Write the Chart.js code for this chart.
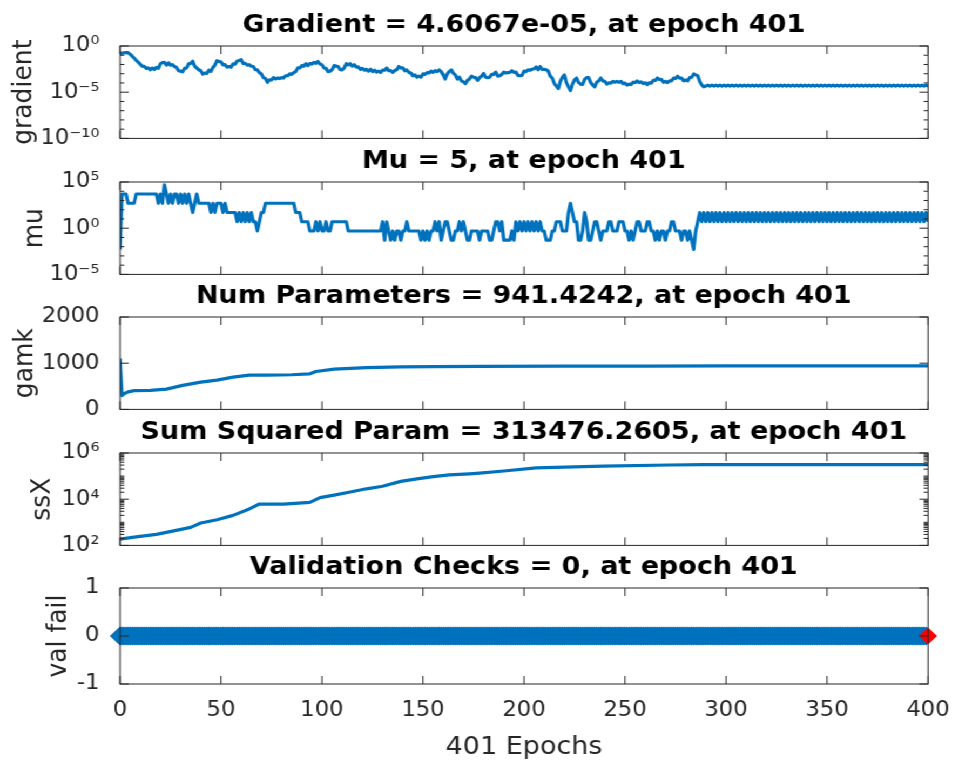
<!DOCTYPE html>
<html>
<head>
<meta charset="utf-8">
<script src="https://cdn.jsdelivr.net/npm/chart.js@4"></script>
<style>
  html, body { margin: 0; padding: 0; background: #fff; overflow: hidden; }
  #fig { position: absolute; left: 0; top: 0; width: 970px; height: 762px; transform: scaleX(1.08); transform-origin: 0 0; }
  #fig canvas { position: absolute; left: 0; }
</style>
</head>
<body>
<div id="fig">
  <canvas id="gradChart" width="970" height="162" style="top:0px"></canvas>
  <canvas id="muChart" width="970" height="162" style="top:136px"></canvas>
  <canvas id="gamkChart" width="970" height="162" style="top:271px"></canvas>
  <canvas id="ssxChart" width="970" height="162" style="top:407px"></canvas>
  <canvas id="valChart" width="970" height="220" style="top:542px"></canvas>
</div>
<script>
// epochs 0..400
const epochs = Array.from({length: 401}, (_, i) => i);
const epochTicks = [0, 50, 100, 150, 200, 250, 300, 350, 400];

const gradient = [
  0.15,0.17,0.18,0.19,0.19,0.13,0.079,0.05,0.028,0.018,
  0.011,0.0065,0.0062,0.0038,0.0042,0.0027,0.0041,0.0029,0.0048,0.0038,
  0.012,0.016,0.017,0.0085,0.015,0.0085,0.0095,0.006,0.0048,0.0021,
  0.0019,0.0016,0.0038,0.0042,0.012,0.013,0.022,0.0065,0.0042,0.0027,
  0.0021,0.0009,0.0012,0.0011,0.0024,0.0018,0.0048,0.0085,0.026,0.021,
  0.019,0.0092,0.0095,0.0052,0.006,0.0052,0.012,0.011,0.024,0.027,
  0.033,0.013,0.013,0.0085,0.0095,0.0065,0.006,0.0027,0.0026,0.0013,
  9.5e-4,3.8e-4,3e-4,1.2e-4,2.2e-4,2.1e-4,3.8e-4,2.7e-4,3.4e-4,3e-4,
  3.8e-4,3.4e-4,6e-4,6e-4,9.5e-4,8.5e-4,1.3e-3,1.7e-3,4.2e-3,4.2e-3,
  0.0075,0.0066,0.012,0.0075,0.013,0.011,0.017,0.0135,0.021,0.011,
  0.0095,0.0042,0.0038,0.0017,0.0019,0.0027,0.0075,0.0066,0.006,0.0027,
  0.0026,0.0042,0.012,0.0092,0.012,0.0066,0.0095,0.0053,0.0054,0.003,
  0.0038,0.0024,0.003,0.0019,0.003,0.0017,0.0024,0.0015,0.0019,0.0014,
  0.0024,0.0024,0.0042,0.0021,0.0022,0.0014,0.0022,0.0027,0.006,0.0042,
  0.0042,0.0021,0.0026,0.0014,0.0012,6e-4,7.5e-4,4.2e-4,5.4e-4,4.2e-4,
  9.5e-4,8.5e-4,1.3e-3,1.2e-3,1.9e-3,1.4e-3,2.1e-3,1.7e-3,2.6e-3,1.7e-3,
  7.5e-4,2.7e-4,9.5e-4,1.7e-3,2.6e-3,1.1e-3,7.5e-4,2.7e-4,4.2e-4,1.7e-4,
  1.3e-4,8.5e-5,1.9e-4,2.7e-4,5.4e-4,4.2e-4,3.8e-4,1.9e-4,3.8e-4,5.4e-4,
  1.05e-3,4.2e-4,3.8e-4,4.2e-4,8.5e-4,8.5e-4,1.5e-3,5.4e-4,6e-4,8.5e-4,
  1.5e-3,1.2e-3,1.3e-3,1.4e-3,2.1e-3,1.4e-3,1.5e-3,6.7e-4,6e-4,6.7e-4,
  1.9e-3,1.7e-3,2.6e-3,2.4e-3,3e-3,3.4e-3,5.4e-3,2.7e-3,6e-3,3e-3,
  3e-3,2.7e-3,1.9e-3,5.4e-4,3.4e-4,8.5e-5,4.8e-5,2.4e-5,1.5e-4,4.2e-4,
  7.5e-4,1.1e-4,3.8e-5,1.5e-5,7.5e-5,2.1e-4,3.4e-4,1.1e-4,7.5e-5,6.7e-5,
  2.4e-4,3.8e-4,3.8e-4,1.1e-4,6e-5,3.8e-5,1.2e-4,1.7e-4,3.4e-4,1.7e-4,
  1.5e-4,7.5e-5,1.05e-4,9.5e-5,1.5e-4,1.2e-4,1.5e-4,1.2e-4,1.5e-4,8.5e-5,
  9.5e-5,6e-5,7.5e-5,6.7e-5,1.2e-4,1.1e-4,1.7e-4,1.1e-4,1.3e-4,8.5e-5,
  1.05e-4,6.7e-5,1.05e-4,9.5e-5,1.9e-4,1.9e-4,3.4e-4,2.4e-4,2.4e-4,1.2e-4,
  1.5e-4,1.1e-4,1.7e-4,1.7e-4,3.4e-4,3e-4,5.4e-4,3.4e-4,3.4e-4,1.7e-4,
  2.1e-4,1.7e-4,3.8e-4,4.2e-4,9.5e-4,7.5e-4,6e-4,1.4e-4,6e-5,3.8e-5,
  4.6e-5,5.8e-5,4.6e-5,5.8e-5,4.6e-5,5.8e-5,4.6e-5,5.8e-5,4.6e-5,5.8e-5,
  4.6e-5,5.8e-5,4.6e-5,5.8e-5,4.6e-5,5.8e-5,4.6e-5,5.8e-5,4.6e-5,5.8e-5,
  4.6e-5,5.8e-5,4.6e-5,5.8e-5,4.6e-5,5.8e-5,4.6e-5,5.8e-5,4.6e-5,5.8e-5,
  4.6e-5,5.8e-5,4.6e-5,5.8e-5,4.6e-5,5.8e-5,4.6e-5,5.8e-5,4.6e-5,5.8e-5,
  4.6e-5,5.8e-5,4.6e-5,5.8e-5,4.6e-5,5.8e-5,4.6e-5,5.8e-5,4.6e-5,5.8e-5,
  4.6e-5,5.8e-5,4.6e-5,5.8e-5,4.6e-5,5.8e-5,4.6e-5,5.8e-5,4.6e-5,5.8e-5,
  4.6e-5,5.8e-5,4.6e-5,5.8e-5,4.6e-5,5.8e-5,4.6e-5,5.8e-5,4.6e-5,5.8e-5,
  4.6e-5,5.8e-5,4.6e-5,5.8e-5,4.6e-5,5.8e-5,4.6e-5,5.8e-5,4.6e-5,5.8e-5,
  4.6e-5,5.8e-5,4.6e-5,5.8e-5,4.6e-5,5.8e-5,4.6e-5,5.8e-5,4.6e-5,5.8e-5,
  4.6e-5,5.8e-5,4.6e-5,5.8e-5,4.6e-5,5.8e-5,4.6e-5,5.8e-5,4.6e-5,5.8e-5,
  4.6e-5,5.8e-5,4.6e-5,5.8e-5,4.6e-5,5.8e-5,4.6e-5,5.8e-5,4.6e-5,5.8e-5,
  4.6067e-5
];

const mu = [
  0.005,5000,5000,5000,500,500,500,500,5000,5000,
  5000,5000,5000,5000,5000,5000,5000,5000,5000,500,
  5000,500,50000,5000,500,5000,500,5000,5000,500,
  5000,500,5000,500,5000,500,50,500,5000,500,
  500,500,500,500,500,50,500,50,500,500,
  500,50,500,50,50,50,50,50,5,50,
  5,50,5,50,5,50,5,5,0.5,5,
  50,50,500,500,500,500,500,500,500,500,
  500,500,500,500,500,500,500,50,50,50,
  5,5,5,5,0.5,0.5,0.5,5,0.5,5,
  0.5,0.5,5,0.5,0.5,5,5,5,5,5,
  5,5,5,0.5,0.5,0.5,0.5,0.5,0.5,0.5,
  0.5,0.5,0.5,0.5,0.5,0.5,0.5,0.5,0.5,0.5,
  5,0.05,5,0.5,0.05,0.5,0.05,0.5,0.5,0.05,
  0.5,0.5,5,0.5,0.5,0.5,0.5,0.5,0.5,0.05,
  0.5,0.05,0.5,0.05,0.5,0.5,5,0.5,5,0.05,
  0.5,5,5,0.5,0.05,0.05,0.5,0.5,5,0.5,
  5,0.5,0.05,0.05,0.5,0.5,0.5,0.5,0.05,0.5,
  0.5,0.5,0.5,0.05,0.05,0.5,5,5,0.5,5,
  0.05,0.05,0.05,0.05,0.5,0.05,5,0.5,5,0.5,
  5,0.5,5,0.5,5,0.5,5,0.5,5,0.5,
  0.5,0.05,0.05,0.05,0.5,0.5,5,5,5,0.5,
  0.5,0.5,50,500,50,5,5,0.05,0.05,0.5,
  50,5,0.05,0.05,0.5,5,5,0.5,0.05,0.5,
  0.5,0.5,5,5,0.5,0.5,0.5,5,5,5,
  0.5,0.5,0.05,0.5,0.05,0.5,5,5,0.5,0.5,
  0.5,5,5,0.5,0.5,0.05,0.5,0.05,0.5,0.5,
  0.05,0.5,0.5,5,5,0.5,0.5,0.5,0.05,0.5,
  0.5,0.05,0.5,0.05,0.005,0.5,5,50,5,50,
  5,50,5,50,5,50,5,50,5,50,
  5,50,5,50,5,50,5,50,5,50,
  5,50,5,50,5,50,5,50,5,50,
  5,50,5,50,5,50,5,50,5,50,
  5,50,5,50,5,50,5,50,5,50,
  5,50,5,50,5,50,5,50,5,50,
  5,50,5,50,5,50,5,50,5,50,
  5,50,5,50,5,50,5,50,5,50,
  5,50,5,50,5,50,5,50,5,50,
  5,50,5,50,5,50,5,50,5,50,
  5,50,5,50,5,50,5,50,5,50,
  5
];

const gamkEpochs = [0,1,2,4,7,15,23,31,40,48,56,64,73,85,94,97,106,114,122,139,155,178,220,260,300,350,400];
const gamk = [1100,300,340,380,405,410,440,520,590,635,700,740,740,750,770,820,870,890,905,920,925,930,935,938,940,941,941.4242];

const ssxEpochs = [0,7,18,26,35,40,48,56,64,69,81,94,99,106,114,122,130,139,147,155,163,173,178,190,206,239,272,289,340,400];
const ssx = [186,229,302,417,603,933,1290,1995,3800,6170,6170,7240,11750,15100,20400,28200,36300,58900,75900,95500,112000,126000,135000,166000,229000,269000,302000,313000,313400,313476.2605];

const valFail = [
  0,0,0,0,0,0,0,0,0,0,0,0,0,0,0,0,0,0,0,0,0,0,0,0,0,0,0,0,0,0,0,0,0,0,0,0,0,0,0,0,
  0,0,0,0,0,0,0,0,0,0,0,0,0,0,0,0,0,0,0,0,0,0,0,0,0,0,0,0,0,0,0,0,0,0,0,0,0,0,0,0,
  0,0,0,0,0,0,0,0,0,0,0,0,0,0,0,0,0,0,0,0,0,0,0,0,0,0,0,0,0,0,0,0,0,0,0,0,0,0,0,0,
  0,0,0,0,0,0,0,0,0,0,0,0,0,0,0,0,0,0,0,0,0,0,0,0,0,0,0,0,0,0,0,0,0,0,0,0,0,0,0,0,
  0,0,0,0,0,0,0,0,0,0,0,0,0,0,0,0,0,0,0,0,0,0,0,0,0,0,0,0,0,0,0,0,0,0,0,0,0,0,0,0,
  0,0,0,0,0,0,0,0,0,0,0,0,0,0,0,0,0,0,0,0,0,0,0,0,0,0,0,0,0,0,0,0,0,0,0,0,0,0,0,0,
  0,0,0,0,0,0,0,0,0,0,0,0,0,0,0,0,0,0,0,0,0,0,0,0,0,0,0,0,0,0,0,0,0,0,0,0,0,0,0,0,
  0,0,0,0,0,0,0,0,0,0,0,0,0,0,0,0,0,0,0,0,0,0,0,0,0,0,0,0,0,0,0,0,0,0,0,0,0,0,0,0,
  0,0,0,0,0,0,0,0,0,0,0,0,0,0,0,0,0,0,0,0,0,0,0,0,0,0,0,0,0,0,0,0,0,0,0,0,0,0,0,0,
  0,0,0,0,0,0,0,0,0,0,0,0,0,0,0,0,0,0,0,0,0,0,0,0,0,0,0,0,0,0,0,0,0,0,0,0,0,0,0,0,
  0
];

const titles = [
  'Gradient = 4.6067e-05, at epoch 401',
  'Mu = 5, at epoch 401',
  'Num Parameters = 941.4242, at epoch 401',
  'Sum Squared Param = 313476.2605, at epoch 401',
  'Validation Checks = 0, at epoch 401'
];
const yLabels = ['gradient', 'mu', 'gamk', 'ssX', 'val fail'];
const gradTicks = [1e-10, 1e-5, 1];
const muTicks = [1e-5, 1, 1e5];
const gamkTicks = [0, 1000, 2000];
const ssxTicks = [1e2, 1e4, 1e6];
const valTicks = [-1, 0, 1];

const FONT = 'DejaVu Sans';
const INK = '#262626';
const BLUE = '#0072BD';
const LEFT = 111.1;   // y axis box width (internal px)
const RIGHT = 110.7;  // balancing box on the right so titles centre on the plot

const SUP = {'0':'⁰','1':'¹','2':'²','3':'³','4':'⁴','5':'⁵','6':'⁶','7':'⁷','8':'⁸','9':'⁹','-':'⁻'};
const powerLabel = v => '10' + String(Math.round(Math.log10(v))).split('').map(c => SUP[c]).join('');
const plainLabel = v => String(v);

// matlab style box with inward ticks
const axesBox = {
  id: 'axesBox',
  afterDraw(chart, args, opts) {
    const {ctx, chartArea: a, scales: {x, y}} = chart;
    const major = 8, minor = 4;
    ctx.save();
    ctx.strokeStyle = INK;
    ctx.lineWidth = 1;
    ctx.strokeRect(a.left, a.top, a.width, a.height);
    ctx.beginPath();
    x.ticks.forEach(t => {
      const px = x.getPixelForValue(t.value);
      ctx.moveTo(px, a.bottom); ctx.lineTo(px, a.bottom - major);
      ctx.moveTo(px, a.top); ctx.lineTo(px, a.top + major);
    });
    y.ticks.forEach(t => {
      const py = y.getPixelForValue(t.value);
      ctx.moveTo(a.left, py); ctx.lineTo(a.left + major, py);
      ctx.moveTo(a.right, py); ctx.lineTo(a.right - major, py);
    });
    (opts.minor || []).forEach(v => {
      const py = y.getPixelForValue(v);
      ctx.moveTo(a.left, py); ctx.lineTo(a.left + minor, py);
      ctx.moveTo(a.right, py); ctx.lineTo(a.right - minor, py);
    });
    ctx.stroke();
    ctx.restore();
  }
};

const lineSet = (xs, ys) => ({
  data: xs.map((e, i) => ({x: e, y: ys[i]})),
  borderColor: BLUE,
  borderWidth: 3.2,
  borderJoinStyle: 'round',
  pointRadius: 0,
  tension: 0
});

function makeChart(id, o) {
  return new Chart(document.getElementById(id), {
    type: 'line',
    data: { datasets: o.datasets },
    options: {
      responsive: false,
      animation: false,
      devicePixelRatio: 1,
      layout: { padding: 0 },
      plugins: {
        legend: { display: false },
        tooltip: { enabled: false },
        title: {
          display: true, text: o.title, color: '#000',
          font: { family: FONT, size: 25, weight: 'bold' },
          padding: { top: 10, bottom: 6 }
        },
        axesBox: { minor: o.minor || [] }
      },
      scales: {
        x: {
          type: 'linear', min: 0, max: 400,
          afterBuildTicks: s => { s.ticks = epochTicks.map(v => ({value: v})); },
          afterFit: s => { s.height = o.xHeight; },
          grid: { display: false },
          border: { display: false },
          ticks: {
            display: !!o.showX, color: INK, font: { family: FONT, size: 21 },
            padding: 6, maxRotation: 0, autoSkip: false, callback: plainLabel
          },
          title: {
            display: !!o.showX, text: '401 Epochs', color: INK,
            font: { family: FONT, size: 25 }, padding: { top: 0, bottom: 0 }
          }
        },
        y: {
          type: o.yType, min: o.yMin, max: o.yMax, position: 'left',
          afterBuildTicks: s => { s.ticks = o.yTicks.map(v => ({value: v})); },
          afterFit: s => { s.width = LEFT; },
          grid: { display: false },
          border: { display: false },
          ticks: { color: INK, font: { family: FONT, size: 21 }, padding: 11, callback: o.tickFmt },
          title: {
            display: true, text: o.yLabel, color: INK,
            font: { family: FONT, size: 25 }, padding: { top: o.yTitlePad, bottom: 0 }
          }
        },
        yRight: {
          position: 'right', display: true,
          afterFit: s => { s.width = RIGHT; },
          grid: { display: false }, border: { display: false }, ticks: { display: false }
        }
      }
    },
    plugins: [axesBox]
  });
}

makeChart('gradChart', {
  title: titles[0], yLabel: yLabels[0], yTitlePad: 7,
  yType: 'logarithmic', yMin: 1e-10, yMax: 1, yTicks: gradTicks, tickFmt: powerLabel,
  minor: [1e-9, 1e-8, 1e-7, 1e-6, 1e-4, 1e-3, 1e-2, 1e-1],
  datasets: [lineSet(epochs, gradient)], xHeight: 20
});

makeChart('muChart', {
  title: titles[1], yLabel: yLabels[1], yTitlePad: 17,
  yType: 'logarithmic', yMin: 1e-5, yMax: 1e5, yTicks: muTicks, tickFmt: powerLabel,
  minor: [1e-4, 1e-3, 1e-2, 1e-1, 10, 100, 1e3, 1e4],
  datasets: [lineSet(epochs, mu)], xHeight: 20
});

makeChart('gamkChart', {
  title: titles[2], yLabel: yLabels[2], yTitlePad: 8,
  yType: 'linear', yMin: 0, yMax: 2000, yTicks: gamkTicks, tickFmt: plainLabel,
  datasets: [lineSet(gamkEpochs, gamk)], xHeight: 20
});

makeChart('ssxChart', {
  title: titles[3], yLabel: yLabels[3], yTitlePad: 24,
  yType: 'logarithmic', yMin: 1e2, yMax: 1e6, yTicks: ssxTicks, tickFmt: powerLabel,
  minor: [200, 300, 400, 500, 600, 700, 800, 900, 1e3, 2e3, 3e3, 4e3, 5e3, 6e3, 7e3, 8e3, 9e3,
          2e4, 3e4, 4e4, 5e4, 6e4, 7e4, 8e4, 9e4, 1e5, 2e5, 3e5, 4e5, 5e5, 6e5, 7e5, 8e5, 9e5],
  datasets: [lineSet(ssxEpochs, ssx)], xHeight: 20
});

const valSet = lineSet(epochs, valFail);
valSet.pointStyle = 'rectRot';
valSet.pointRadius = ctx => ctx.dataIndex === 400 ? 7 : 8;
valSet.pointBorderWidth = 2;
valSet.pointBackgroundColor = ctx => ctx.dataIndex === 400 ? '#ff0000' : BLUE;
valSet.pointBorderColor = ctx => ctx.dataIndex === 400 ? '#ff0000' : BLUE;
valSet.clip = false;

makeChart('valChart', {
  title: titles[4], yLabel: yLabels[4], yTitlePad: 39,
  yType: 'linear', yMin: -1, yMax: 1, yTicks: valTicks, tickFmt: plainLabel,
  datasets: [valSet], xHeight: 78, showX: true
});
</script>
</body>
</html>
